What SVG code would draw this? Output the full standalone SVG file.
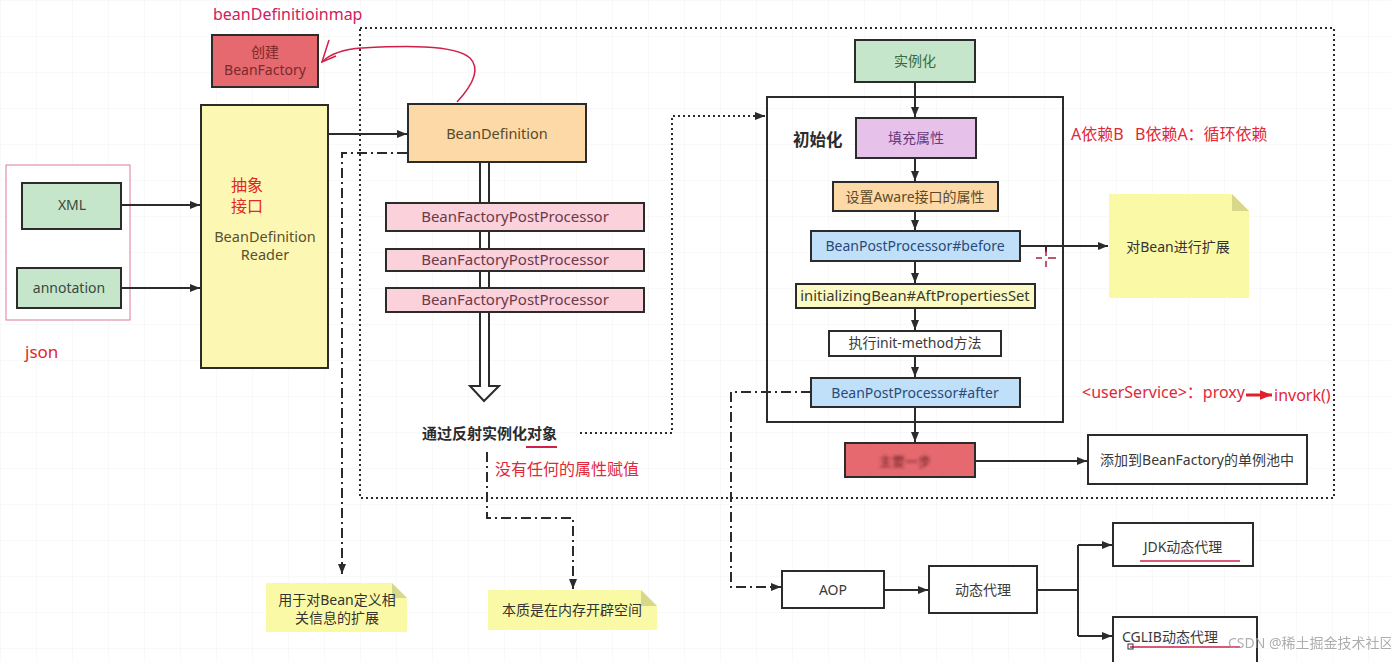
<svg xmlns="http://www.w3.org/2000/svg" width="1391" height="662" viewBox="0 0 1391 662" font-size="14">
<style>
text{font-family:"Noto Sans","Noto Sans CJK SC",sans-serif;}
.box{stroke:#2b2b2b;stroke-width:2;}
.ln{fill:none;stroke:#2b2b2b;stroke-width:2;}
.dd{fill:none;stroke:#2b2b2b;stroke-width:2;stroke-dasharray:10,4,2,4;}
.dot{fill:none;stroke:#2b2b2b;stroke-width:2;stroke-dasharray:2,3;}
.c{text-anchor:middle;}
.note{fill:#fafaa6;}
.fold{fill:#d8d88a;}
</style>
<defs>
<marker id="ar" viewBox="0 0 10 8" refX="10" refY="4" markerWidth="10" markerHeight="8" markerUnits="userSpaceOnUse" orient="auto">
<path d="M0,0 L10,4 L0,8 z" fill="#2b2b2b"/>
</marker>
<marker id="arr" viewBox="0 0 10 8" refX="10" refY="4" markerWidth="12" markerHeight="10" markerUnits="userSpaceOnUse" orient="auto">
<path d="M0,0 L10,4 L0,8 z" fill="#e0202a"/>
</marker>
<pattern id="grid" width="36" height="36" patternUnits="userSpaceOnUse">
<path d="M36,0 L0,0 0,36" fill="none" stroke="#f3f3f3" stroke-width="1"/>
</pattern>
<filter id="blur"><feGaussianBlur stdDeviation="1.6"/></filter>
</defs>
<rect width="1391" height="662" fill="#fff"/>
<rect width="1391" height="662" fill="url(#grid)"/>

<!-- containers -->
<rect id="container" x="360" y="28" width="974" height="470" class="dot"/>
<g id="jsonGroup"><rect x="6" y="165" width="124" height="155" fill="#fff" stroke="#e07a95" stroke-width="1"/></g>

<!-- connectors -->
<g id="connectors">
<line x1="122" y1="205" x2="200" y2="205" class="ln" marker-end="url(#ar)"/>
<line x1="122" y1="288" x2="200" y2="288" class="ln" marker-end="url(#ar)"/>
<line x1="329" y1="134" x2="407" y2="134" class="ln" marker-end="url(#ar)"/>
<path d="M457,102 C470,88 482,70 470,58 C455,44 400,46 362,48 C345,49 330,54 322,62" fill="none" stroke="#d0204a" stroke-width="1.5"/>
<path d="M329,40 L322,62 L336,56" fill="none" stroke="#d0204a" stroke-width="1.5"/>
<path d="M480,163 L480,386 L470,386 L484,401 L499,386 L489,386 L489,163" fill="#fff" stroke="#2b2b2b" stroke-width="2"/>
<path d="M407,153 L342,153 L342,574" class="dd" marker-end="url(#ar)"/>
<path d="M487,452 L487,518 L573,518 L573,589" class="dd" marker-end="url(#ar)"/>
<path d="M580,433 L672,433 L672,116 L765,116" class="dot" marker-end="url(#ar)"/>
<line x1="915" y1="82" x2="915" y2="117" class="ln" marker-end="url(#ar)"/>
<line x1="915" y1="158" x2="915" y2="181" class="ln" marker-end="url(#ar)"/>
<line x1="915" y1="211" x2="915" y2="230" class="ln" marker-end="url(#ar)"/>
<line x1="915" y1="261" x2="915" y2="283" class="ln" marker-end="url(#ar)"/>
<line x1="915" y1="308" x2="915" y2="330" class="ln" marker-end="url(#ar)"/>
<line x1="915" y1="356" x2="915" y2="377" class="ln" marker-end="url(#ar)"/>
<line x1="915" y1="407" x2="915" y2="442" class="ln" marker-end="url(#ar)"/>
<line x1="1020" y1="246" x2="1108" y2="246" class="ln" marker-end="url(#ar)"/>
<line x1="1046" y1="246" x2="1046" y2="252" stroke="#2b2b2b" stroke-width="2"/>
<path d="M1036,258 L1042,258 M1048,258 L1056,258 M1046,250 L1046,256 M1046,261 L1046,267" stroke="#b0203a" stroke-width="1.5"/>
<line x1="976" y1="461" x2="1087" y2="461" class="ln" marker-end="url(#ar)"/>
<path d="M811,392 L731,392 L731,587 L781,587" class="dd" marker-end="url(#ar)"/>
<line x1="885" y1="590" x2="928" y2="590" class="ln" marker-end="url(#ar)"/>
<path d="M1037,590 L1078,590 M1078,545 L1078,636" class="ln"/>
<line x1="1078" y1="545" x2="1112" y2="545" class="ln" marker-end="url(#ar)"/>
<line x1="1078" y1="636" x2="1112" y2="636" class="ln" marker-end="url(#ar)"/>
<line x1="1246" y1="395" x2="1272" y2="395" stroke="#e0202a" stroke-width="3" marker-end="url(#arr)"/>
</g>

<!-- left -->
<text x="213" y="20" fill="#d0205a" font-size="16">beanDefinitioinmap</text>
<g id="createFactory">
<rect x="212" y="35" width="106" height="52" fill="#e5696f" class="box"/>
<text x="265" y="57" class="c" fill="#7a2a2a">创建</text>
<text x="265" y="75" class="c" fill="#7a2a2a">BeanFactory</text>
</g>
<g id="reader">
<rect x="201" y="105" width="127" height="263" fill="#fdf7b4" class="box"/>
<text x="231" y="191" fill="#e02828" font-size="16">抽象<tspan x="231" y="212">接口</tspan></text>
<text x="265" y="242" class="c" fill="#5a5030" font-size="14.5">BeanDefinition</text>
<text x="265" y="260" class="c" fill="#5a5030" font-size="14.5">Reader</text>
</g>
<g id="xml"><rect x="22" y="183" width="99" height="46" fill="#c6e6cc" class="box"/>
<text x="72" y="210" class="c" fill="#3a4a3a">XML</text></g>
<g id="annotation"><rect x="17" y="268" width="104" height="40" fill="#c6e6cc" class="box"/>
<text x="69" y="293" class="c" fill="#3a4a3a">annotation</text></g>
<text x="25" y="358" fill="#e02828" font-size="17">json</text>

<g id="beanDefinition">
<rect x="408" y="104" width="178" height="58" fill="#fcd9a6" class="box"/>
<text x="497" y="139" class="c" fill="#5a4a2a" font-size="14.5">BeanDefinition</text>
</g>
<g id="bfpp1"><rect x="386" y="203" width="258" height="28" fill="#fbd1dc" class="box"/>
<text x="515" y="222" class="c" fill="#6b3a4a" font-size="15">BeanFactoryPostProcessor</text></g>
<g id="bfpp2"><rect x="386" y="249" width="258" height="22" fill="#fbd1dc" class="box"/>
<text x="515" y="265" class="c" fill="#6b3a4a" font-size="15">BeanFactoryPostProcessor</text></g>
<g id="bfpp3"><rect x="386" y="288" width="258" height="24" fill="#fbd1dc" class="box"/>
<text x="515" y="305" class="c" fill="#6b3a4a" font-size="15">BeanFactoryPostProcessor</text></g>

<g id="reflect">
<text x="422" y="439" fill="#2b2b2b" font-weight="bold" font-size="15">通过反射实例化对象</text>
<line x1="526" y1="447" x2="557" y2="447" stroke="#d0204a" stroke-width="2"/>
</g>
<text x="495" y="475" fill="#e02838" font-size="16">没有任何的属性赋值</text>

<g id="note1">
<path d="M266,583 L392,583 L407,598 L407,632 L266,632 z" class="note"/>
<path d="M392,583 L407,598 L392,598 z" class="fold"/>
<text x="337" y="605" class="c" fill="#333">用于对Bean定义相<tspan x="337" y="623">关信息的扩展</tspan></text>
</g>
<g id="note2">
<path d="M488,590 L641,590 L657,606 L657,630 L488,630 z" class="note"/>
<path d="M641,590 L657,606 L641,606 z" class="fold"/>
<text x="572" y="615" class="c" fill="#333">本质是在内存开辟空间</text>
</g>

<!-- right -->
<g id="instantiate"><rect x="855" y="40" width="120" height="42" fill="#c6e6cc" class="box"/>
<text x="915" y="66" class="c" fill="#3a6a3a">实例化</text></g>
<g id="initBox"><rect x="767" y="97" width="296" height="325" fill="none" class="box"/>
<text x="793" y="146" fill="#2b2b2b" font-size="16.5" font-weight="bold">初始化</text></g>
<g id="fill"><rect x="856" y="118" width="120" height="40" fill="#e6c2ea" class="box"/>
<text x="916" y="143" class="c" fill="#6a3a7a">填充属性</text></g>
<g id="aware"><rect x="833" y="182" width="165" height="29" fill="#fcd9a6" class="box"/>
<text x="915" y="202" class="c" fill="#5a4a2a">设置Aware接口的属性</text></g>
<g id="before"><rect x="811" y="231" width="209" height="30" fill="#bfe0f8" class="box"/>
<text x="915" y="251" class="c" fill="#2a4a7a">BeanPostProcessor#before</text></g>
<g id="initializing"><rect x="796" y="284" width="239" height="24" fill="#fbfac4" class="box"/>
<text x="915" y="301" class="c" fill="#3a3a2a" font-size="14.8">initializingBean#AftPropertiesSet</text></g>
<g id="initMethod"><rect x="829" y="331" width="172" height="25" fill="#fff" class="box"/>
<text x="915" y="348" class="c" fill="#3a3a3a">执行init-method方法</text></g>
<g id="after"><rect x="811" y="378" width="209" height="29" fill="#bfe0f8" class="box"/>
<text x="915" y="398" class="c" fill="#2a4a7a">BeanPostProcessor#after</text></g>
<g id="mainStep"><rect x="845" y="443" width="130" height="34" fill="#e5696f" class="box"/>
<text x="905" y="466" class="c" fill="#6a2020" font-size="13" filter="url(#blur)">主要一步</text></g>
<g id="pool"><rect x="1088" y="435" width="219" height="49" fill="#fff" class="box"/>
<text x="1197" y="465" class="c" fill="#3a3a3a">添加到BeanFactory的单例池中</text></g>
<g id="noteExt">
<path d="M1109,194 L1232,194 L1249,211 L1249,298 L1109,298 z" class="note"/>
<path d="M1232,194 L1249,211 L1232,211 z" class="fold"/>
<text x="1178" y="252" class="c" fill="#333">对Bean进行扩展</text>
</g>
<text x="1071" y="140" fill="#e02838" font-size="16">A依赖B<tspan x="1135">B依赖A：循环依赖</tspan></text>
<text x="1082" y="398" fill="#e02838" font-size="16">&lt;userService&gt;：proxy</text>
<text x="1274" y="401" fill="#e02838" font-size="16">invork()</text>

<g id="aop"><rect x="782" y="571" width="102" height="37" fill="#fff" class="box"/>
<text x="833" y="595" class="c" fill="#3a3a3a">AOP</text></g>
<g id="dynProxy"><rect x="929" y="566" width="108" height="47" fill="#fff" class="box"/>
<text x="983" y="595" class="c" fill="#3a3a3a">动态代理</text></g>
<g id="jdk"><rect x="1113" y="523" width="140" height="43" fill="#fff" class="box"/>
<text x="1183" y="552" class="c" fill="#3a3a3a">JDK动态代理</text>
<line x1="1140" y1="561" x2="1240" y2="561" stroke="#d0204a" stroke-width="1.5"/></g>
<g id="cglib"><rect x="1113" y="617" width="144" height="46" fill="#fff" class="box"/>
<text x="1170" y="642" class="c" fill="#3a3a3a">CGLIB动态代理</text>
<line x1="1130" y1="647" x2="1240" y2="647" stroke="#d0204a" stroke-width="1.5"/>
<rect x="1128" y="644" width="5" height="5" fill="none" stroke="#333" stroke-width="1"/></g>
<text x="1228" y="648" fill="#9a9a9a" font-size="14" opacity="0.8">CSDN @稀土掘金技术社区</text>
</svg>
